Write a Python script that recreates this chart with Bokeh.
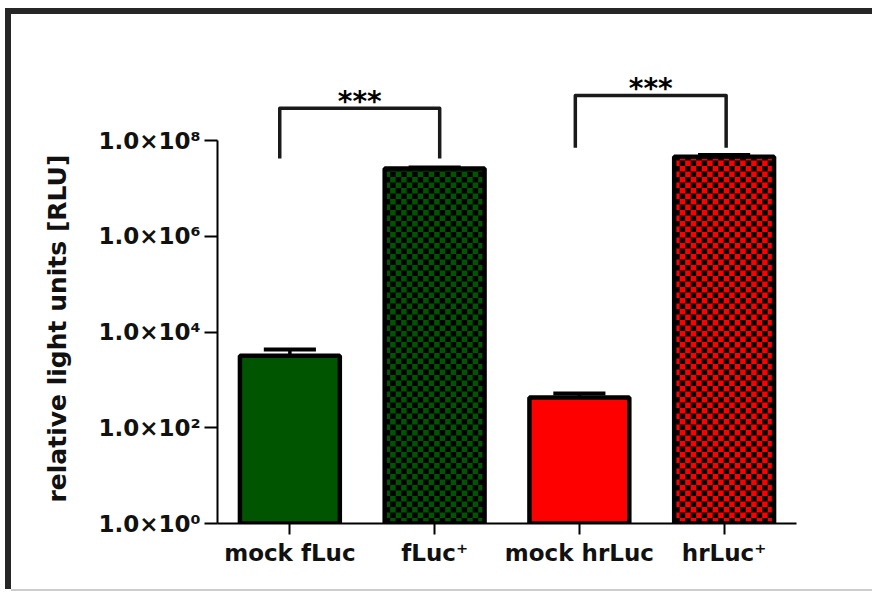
import math
from bokeh.plotting import figure
from bokeh.models import FactorRange, Range1d, FixedTicker, ColumnDataSource, Title
from bokeh.core.properties import value
from bokeh.embed import file_html
from bokeh.resources import INLINE

# ---------------- data ----------------
categories = ["mock fLuc", "fLuc\u207a", "mock hrLuc", "hrLuc\u207a"]
means = [3200, 2.6e7, 430, 4.6e7]
upper = [4300, 2.75e7, 520, 5.0e7]          # mean + SEM
bar_colors = ["#005500", "#005500", "#ff0000", "#ff0000"]
checkered = [False, True, False, True]

y_tick_values = [1, 100, 10000, 1000000, 100000000]
y_tick_labels = ["1.0\u00d710\u2070", "1.0\u00d710\u00b2", "1.0\u00d710\u2074",
                 "1.0\u00d710\u2076", "1.0\u00d710\u2078"]
y_label = "relative light units [RLU]"

comparisons = [("mock fLuc", "fLuc\u207a"), ("mock hrLuc", "hrLuc\u207a")]
comparison_labels = ["***", "***"]
bracket_top = [4.7e8, 8.7e8]
bracket_foot = [4.2e7, 7.1e7]

# ---------------- style / layout ----------------
FONT = "DejaVu Sans"
leg_offsets = [(-0.07, 0.035), (-0.028, 0.014)]
cap_half = 0.18
bar_width = 0.69
Y_TOP_LOG = 10.09
FRAME_W, FRAME_H = 579, 483          # px
SQ = 5.5                             # checker square, px

p = figure(
    x_range=FactorRange(*categories, range_padding=0),
    y_range=Range1d(1, 10 ** Y_TOP_LOG),
    y_axis_type="log",
    width=861, height=575,
    min_border_left=206, min_border_right=76,
    min_border_top=26, min_border_bottom=66,
    output_backend="svg", toolbar_location=None,
    styles={"margin-left": "11px", "margin-top": "14px",
            "box-shadow": "-3px -3px 0 3px #262626, 0 2px 0 0 #cccccc"},
)
p.outline_line_color = None
p.xgrid.grid_line_color = None
p.ygrid.grid_line_color = None
p.background_fill_color = "white"
p.border_fill_color = "white"

# error bars (upper only)
src_err = ColumnDataSource(dict(
    x=categories, mean=means, upper=upper,
    cl=[(c, -cap_half) for c in categories], cr=[(c, cap_half) for c in categories],
))
p.segment(x0="x", y0="mean", x1="x", y1="upper", source=src_err,
          line_color="black", line_width=3.5)
p.segment(x0="cl", y0="upper", x1="cr", y1="upper", source=src_err,
          line_color="black", line_width=4)

# bar fills
src_bars = ColumnDataSource(dict(x=categories, top=means, color=bar_colors))
p.vbar(x="x", top="top", bottom=1, width=bar_width, source=src_bars,
       fill_color="color", line_color=None)

# checkerboard texture on the '+' bars (squares of fixed pixel size)
dy = SQ * Y_TOP_LOG / FRAME_H              # decades per square
dx = SQ * len(categories) / FRAME_W        # factor units per square
ql, qr, qb, qt = [], [], [], []
for cat, top, chk in zip(categories, means, checkered):
    if not chk:
        continue
    ltop = math.log10(top)
    nrows = int(math.ceil(ltop / dy))
    ncols = int(math.ceil(bar_width / dx))
    for r in range(nrows):
        y0 = r * dy
        y1 = min((r + 1) * dy, ltop)
        for c in range(ncols):
            if (r + c) % 2:
                continue
            x0 = -bar_width / 2 + c * dx
            x1 = min(x0 + dx, bar_width / 2)
            ql.append((cat, x0)); qr.append((cat, x1))
            qb.append(10 ** y0); qt.append(10 ** y1)
p.quad(left=ql, right=qr, bottom=qb, top=qt, fill_color="black", line_color=None)

# bar outlines
p.vbar(x="x", top="top", bottom=1, width=bar_width, source=src_bars,
       fill_color=None, line_color="black", line_width=4.5)

# significance brackets
for (a, b), (oa, ob), yt, yf, lab in zip(comparisons, leg_offsets, bracket_top, bracket_foot, comparison_labels):
    p.line(x=[(a, oa), (a, oa), (b, ob), (b, ob)], y=[yf, yt, yt, yf],
           line_color="#1a1a1a", line_width=3.5, line_join="round")
    mid = categories.index(b) - categories.index(a)
    p.text(x=[(a, (oa + ob + mid) / 2)], y=[yt], text=[lab],
           text_align="center", text_baseline="alphabetic",
           text_font=value(FONT), text_font_style="bold", text_font_size="28px",
           text_color="black", y_offset=-7)

# axes
yax = p.yaxis[0]
yax.ticker = FixedTicker(ticks=y_tick_values, minor_ticks=[])
yax.major_label_overrides = dict(zip(y_tick_values, y_tick_labels))
yax.bounds = (1, 1e8)

for ax in (p.xaxis[0], yax):
    ax.axis_line_width = 2
    ax.axis_line_color = "black"
    ax.major_tick_line_width = 2
    ax.major_tick_line_color = "black"
    ax.major_tick_in = 0
    ax.minor_tick_line_color = None
    ax.major_label_text_font = FONT
    ax.major_label_text_font_style = "bold"
    ax.major_label_text_color = "#111111"

yax.major_tick_out = 13
yax.major_label_standoff = 4
yax.major_label_text_font_size = "23px"

xax = p.xaxis[0]
xax.major_tick_out = 11
xax.major_label_standoff = 5
xax.major_label_text_font_size = "23px"
xax.major_label_orientation = "horizontal"

# y-axis title, placed along the drawn part of the axis (1 .. 1e8)
p.add_layout(Title(text=y_label, align="left", offset=21, vertical_align="middle",
                   standoff=46, text_font=FONT, text_font_style="bold",
                   text_font_size="25px", text_color="#111111"), "left")

open("out.html", "w").write(file_html(p, INLINE))
